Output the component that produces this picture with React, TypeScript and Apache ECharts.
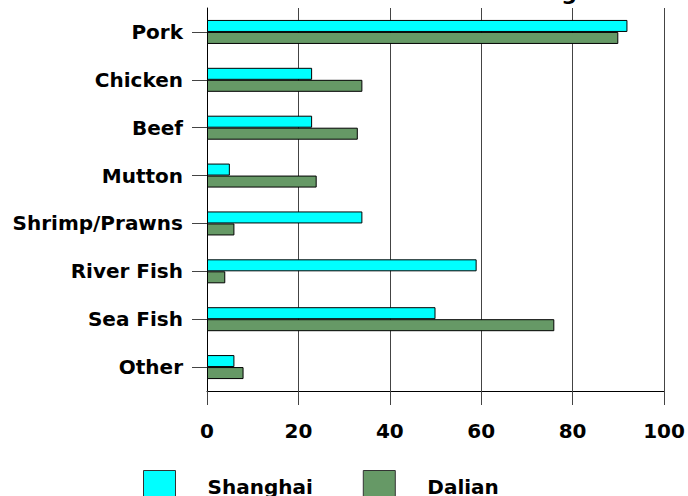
import React, { useEffect, useRef } from "react";
import * as echarts from "echarts";

const categories = ["Pork", "Chicken", "Beef", "Mutton", "Shrimp/Prawns", "River Fish", "Sea Fish", "Other"];
const shanghai = [92, 23, 23, 5, 34, 59, 50, 6];
const dalian = [90, 34, 33, 24, 6, 4, 76, 8];
const titleText = "Meat and fish eaten most during";

export default function App() {
  const ref = useRef<HTMLDivElement>(null);
  useEffect(() => {
    document.body.style.margin = "0";
    const chart = echarts.init(ref.current!, null, { renderer: "svg" });
    const font = "'DejaVu Sans', sans-serif";
    chart.setOption({
      animation: false,
      backgroundColor: "#ffffff",
      textStyle: { fontFamily: font },
      graphic: [
        {
          type: "text",
          x: 577,
          y: 3,
          style: {
            text: titleText,
            fontFamily: font,
            fontWeight: "bold",
            fontSize: 22,
            fill: "#000",
            align: "right",
            verticalAlign: "bottom",
          },
        },
      ],
      legend: {
        top: 470,
        left: 143,
        padding: 0,
        itemWidth: 32,
        itemHeight: 32,
        itemGap: 50,
        icon: "rect",
        data: ["Shanghai", "Dalian"],
        itemStyle: { borderColor: "#333", borderWidth: 1 },
        textStyle: {
          fontFamily: font,
          fontWeight: "bold",
          fontSize: 20,
          color: "#000",
          padding: [0, 0, 0, 27],
        },
      },
      grid: { left: 207, right: 24, top: 8, bottom: 105, containLabel: false },
      xAxis: {
        type: "value",
        min: 0,
        max: 100,
        interval: 20,
        axisLine: { show: true, lineStyle: { color: "#000", width: 1 } },
        axisTick: { show: true, length: 14, lineStyle: { color: "#444" } },
        splitLine: { show: true, lineStyle: { color: "#444", width: 1 } },
        axisLabel: {
          margin: 30,
          fontFamily: font,
          fontWeight: "bold",
          fontSize: 20,
          color: "#000",
        },
      },
      yAxis: {
        type: "category",
        inverse: true,
        data: categories,
        axisLine: { show: true, lineStyle: { color: "#000", width: 1 } },
        axisTick: { show: true, alignWithLabel: true, length: 15, lineStyle: { color: "#444" } },
        axisLabel: {
          margin: 24,
          fontFamily: font,
          fontWeight: "bold",
          fontSize: 20,
          color: "#000",
        },
      },
      series: [
        {
          name: "Shanghai",
          type: "bar",
          data: shanghai,
          barWidth: 12,
          barGap: "0%",
          itemStyle: { color: "#00FFFF", borderColor: "#000", borderWidth: 1 },
        },
        {
          name: "Dalian",
          type: "bar",
          data: dalian,
          barWidth: 12,
          barGap: "0%",
          itemStyle: { color: "#669966", borderColor: "#000", borderWidth: 1 },
        },
      ],
    });
    return () => chart.dispose();
  }, []);
  return <div ref={ref} style={{ width: 688, height: 496 }} />;
}
